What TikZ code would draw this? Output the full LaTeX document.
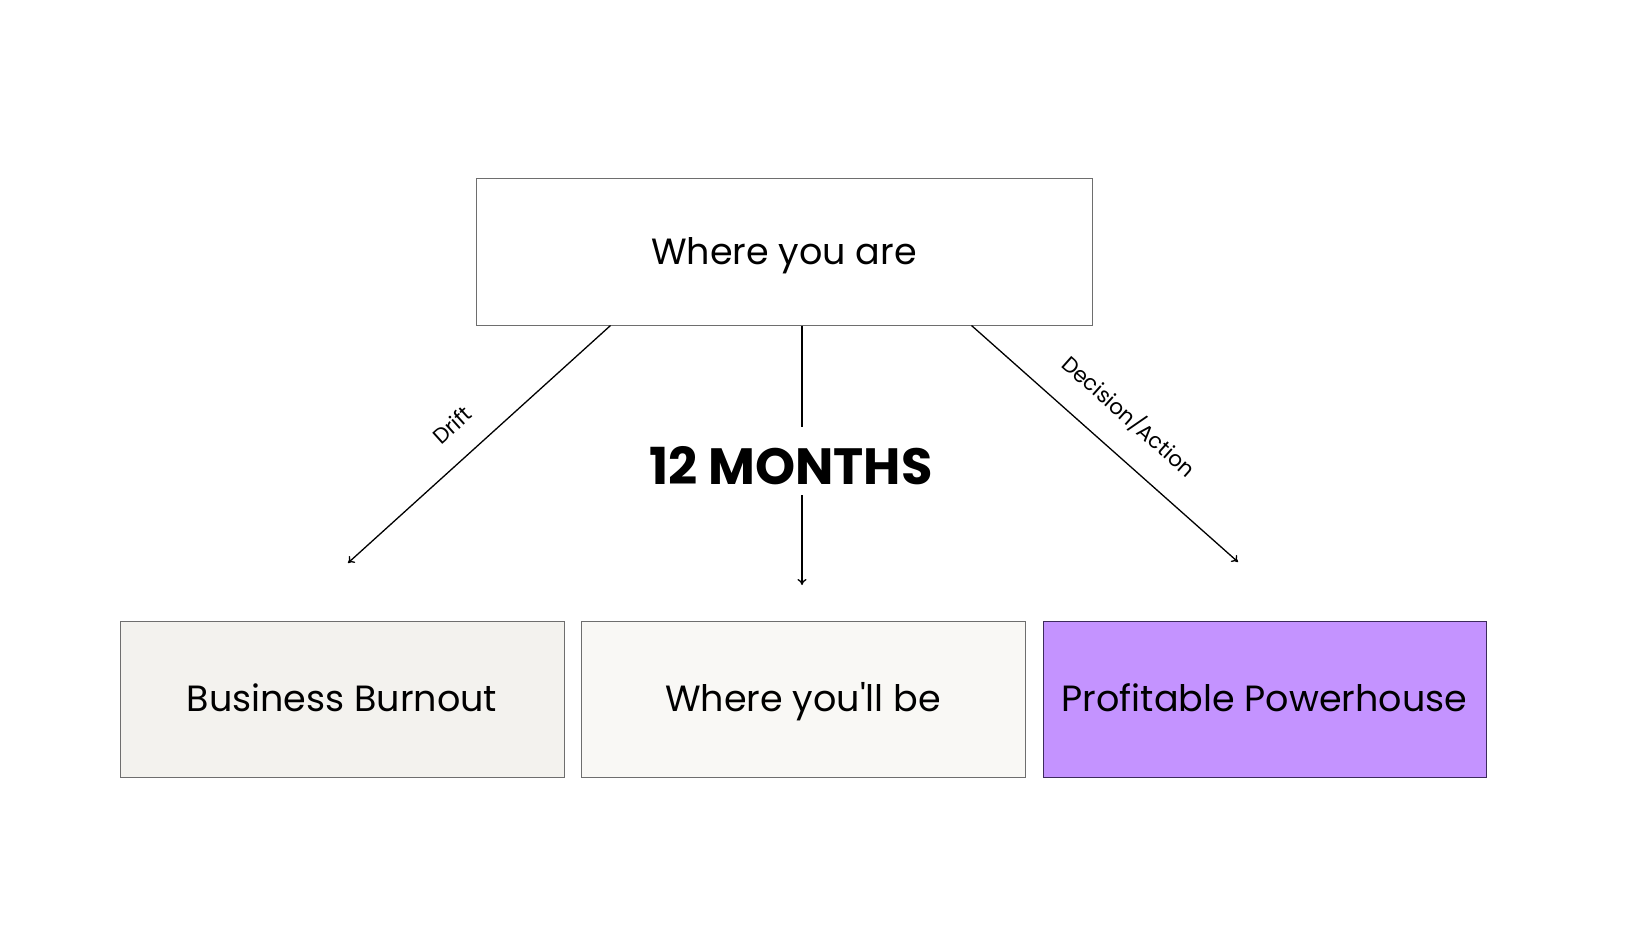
\documentclass[tikz,border=0pt]{standalone}
\usepackage{fontspec}
\setmainfont{Poppins}
\usetikzlibrary{arrows.meta}
\definecolor{boxline}{HTML}{6E6E6E}
\definecolor{burnfill}{HTML}{F3F2EE}
\definecolor{midfill}{HTML}{F9F8F5}
\definecolor{purfill}{HTML}{C493FF}
\definecolor{purline}{HTML}{3D2B5C}
\newcommand{\straightquote}{{\addfontfeatures{Ligatures=TeXOff}'}}
\tikzset{
  box/.style={draw=boxline, line width=1pt, minimum width=#1, minimum height=156pt, inner sep=0pt,
     font=\fontsize{36.5}{42}\selectfont, text height=25.5pt, text depth=0pt},
  conn/.style={line width=1.3pt, -{To[length=6pt,width=9pt]}},
  seg/.style={line width=1.3pt},
  lbl/.style={font=\fontsize{21.5}{25}\selectfont, inner sep=0pt},
}
\begin{document}
\begin{tikzpicture}[x=1pt,y=-1pt]
\useasboundingbox (0,0) rectangle (1640,924);
\node[box=616pt, minimum height=147pt, fill=white] (top) at (784,251.5) {Where you are};
\node[box=444pt, fill=burnfill] (burn) at (342,699) {Business Burnout};
\node[box=444pt, fill=midfill] (mid) at (803,699) {Where you\straightquote ll be};
\node[box=443pt, fill=purfill, draw=purline] (prof) at (1264.5,699) {Profitable Powerhouse};
\node[font=\bfseries\fontsize{51}{57}\selectfont, inner sep=0pt] (months) at (791,466) {12 MONTHS};
\coordinate (e1) at (348,563);
\coordinate (e2) at (802,585);
\coordinate (e3) at (1238,562);
\draw[conn] ([xshift=135pt]top.south west) -- (e1);
\draw[seg] (top.south -| e2) -- ([yshift=20pt]months.north -| e2);
\draw[conn] ([yshift=-10pt]months.south -| e2) -- (e2);
\draw[conn] ([xshift=-121pt]top.south east) -- (e3);
\node[lbl, rotate=42] (drift) at (452,425) {Drift};
\node[lbl, rotate=-41.6] (decision) at (1129,416) {Decision/Action};
\end{tikzpicture}
\end{document}
